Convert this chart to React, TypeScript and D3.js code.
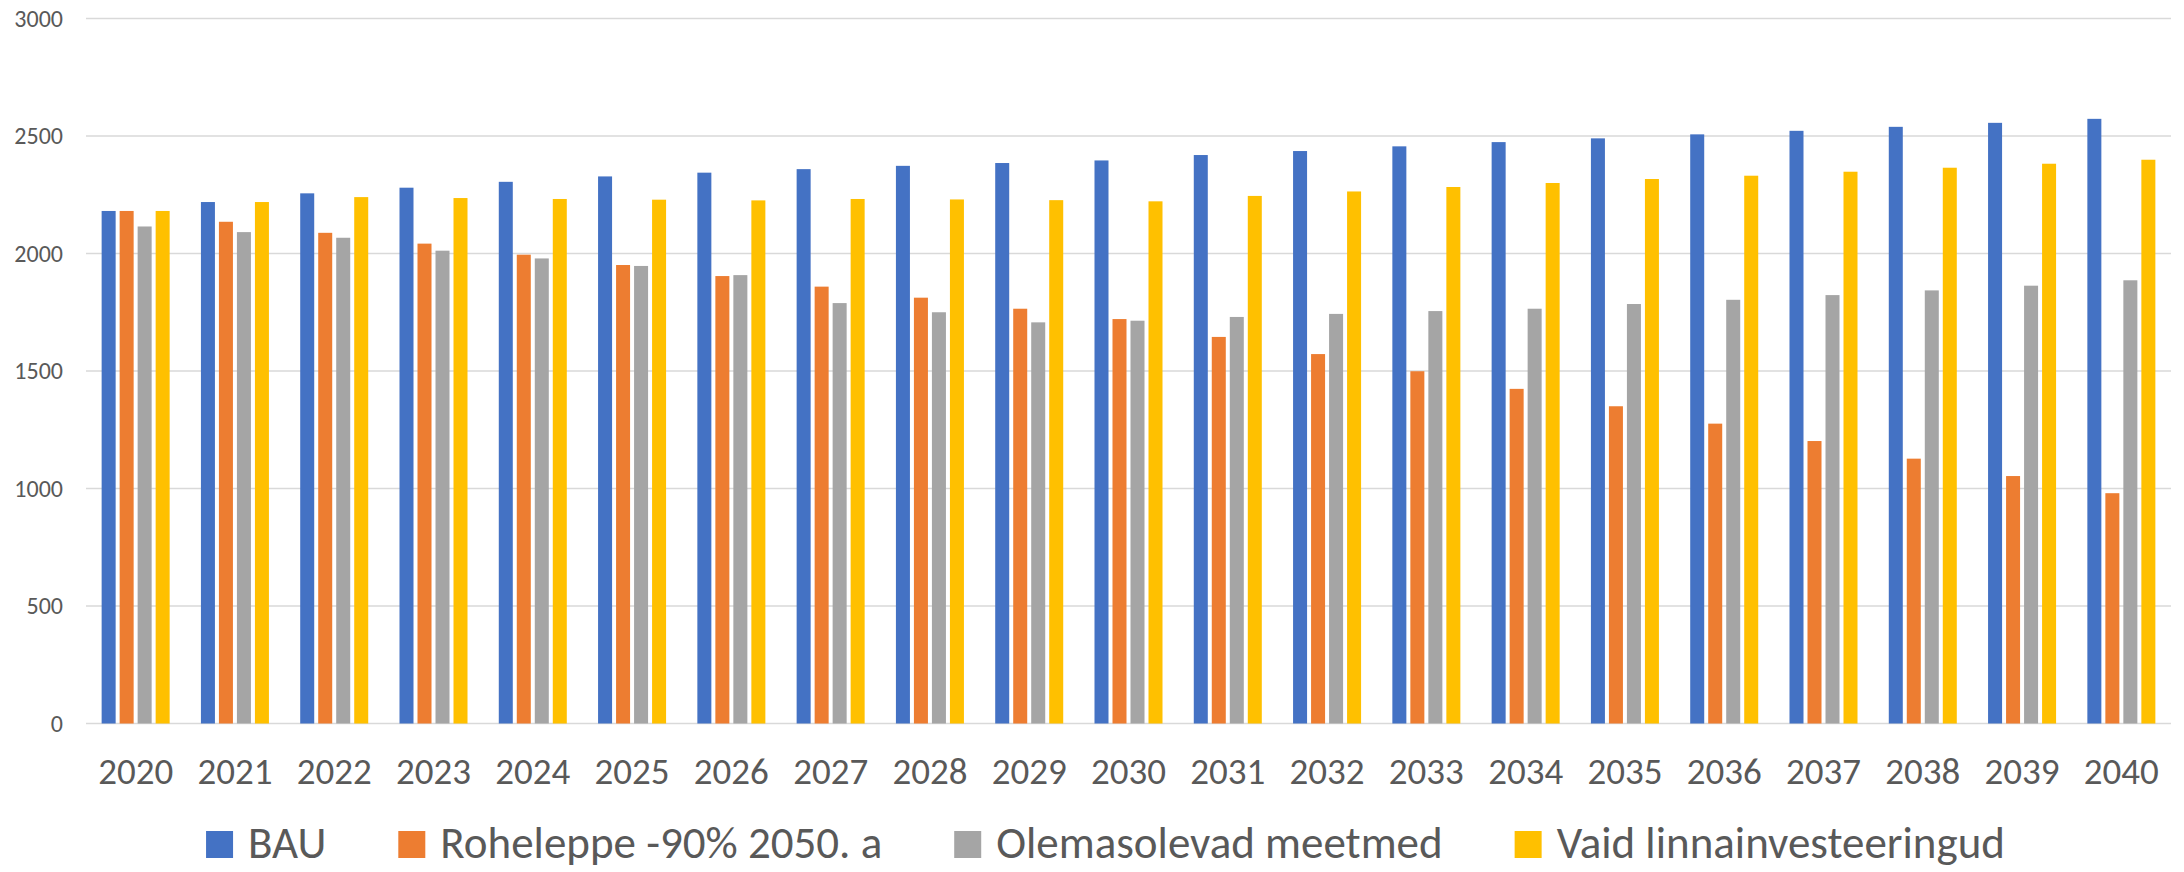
import React, { useEffect, useRef } from "react";
import * as d3 from "d3";

const years = ["2020", "2021", "2022", "2023", "2024", "2025", "2026", "2027", "2028", "2029", "2030",
  "2031", "2032", "2033", "2034", "2035", "2036", "2037", "2038", "2039", "2040"];

const seriesNames = ["BAU", "Roheleppe -90% 2050. a", "Olemasolevad meetmed", "Vaid linnainvesteeringud"];

const bau = [2181, 2219, 2256, 2280, 2305, 2328, 2344, 2359, 2373, 2385, 2396, 2419, 2436, 2456, 2474, 2490, 2507, 2522, 2539, 2556, 2573];
const roheleppe = [2181, 2135, 2088, 2042, 1995, 1951, 1904, 1859, 1812, 1765, 1721, 1645, 1572, 1499, 1424, 1350, 1276, 1202, 1127, 1053, 980];
const olemasolevad = [2115, 2091, 2067, 2012, 1979, 1947, 1908, 1789, 1750, 1707, 1714, 1730, 1743, 1755, 1765, 1785, 1803, 1823, 1843, 1863, 1886];
const vaid = [2181, 2219, 2240, 2236, 2232, 2229, 2226, 2232, 2230, 2227, 2222, 2245, 2264, 2283, 2300, 2317, 2331, 2348, 2365, 2382, 2399];

const yTicks = [0, 500, 1000, 1500, 2000, 2500, 3000];

const colors = ["#4472C4", "#ED7D31", "#A5A5A5", "#FFC000"];

const FONT = "Carlito, Calibri, Lato, 'Liberation Sans', sans-serif";
const TEXT = "#595959";

export default function App() {
  const ref = useRef<SVGSVGElement | null>(null);

  useEffect(() => {
    document.body.style.margin = "0";

    const width = 2184;
    const height = 872;
    const margin = { top: 18.5, right: 13, bottom: 148.5, left: 86 };

    const svg = d3.select(ref.current);
    svg.selectAll("*").remove();

    const values = [bau, roheleppe, olemasolevad, vaid];
    const rows = years.map((yr, i) => ({ year: yr, vals: values.map(s => s[i]) }));

    const x = d3.scaleBand<string>()
      .domain(years)
      .range([margin.left, width - margin.right])
      .paddingInner(0.315)
      .paddingOuter(0.1575);

    const x1 = d3.scaleBand<number>()
      .domain(d3.range(seriesNames.length))
      .range([0, x.bandwidth()])
      .paddingInner(0.222)
      .paddingOuter(0);

    const y = d3.scaleLinear([0, 3000], [height - margin.bottom, margin.top]);

    // gridlines
    svg.append("g")
      .selectAll("line")
      .data(yTicks)
      .join("line")
      .attr("x1", margin.left)
      .attr("x2", width - margin.right)
      .attr("y1", d => y(d))
      .attr("y2", d => y(d))
      .attr("stroke", "#D9D9D9")
      .attr("stroke-width", 1.6);

    // y labels
    svg.append("g")
      .attr("font-family", FONT)
      .attr("font-size", 24)
      .attr("fill", TEXT)
      .attr("text-anchor", "end")
      .selectAll("text")
      .data(yTicks)
      .join("text")
      .attr("x", 63)
      .attr("y", d => y(d))
      .attr("dy", "0.35em")
      .text(d => d);

    // bars
    svg.append("g")
      .selectAll("g")
      .data(rows)
      .join("g")
      .attr("transform", d => `translate(${x(d.year)},0)`)
      .selectAll("rect")
      .data(d => d.vals)
      .join("rect")
      .attr("x", (d, i) => x1(i)!)
      .attr("width", x1.bandwidth())
      .attr("y", d => y(d))
      .attr("height", d => y(0) - y(d))
      .attr("fill", (d, i) => colors[i]);

    // x labels
    svg.append("g")
      .attr("font-family", FONT)
      .attr("font-size", 37)
      .attr("fill", TEXT)
      .attr("text-anchor", "middle")
      .selectAll("text")
      .data(years)
      .join("text")
      .attr("x", d => x(d)! + x.bandwidth() / 2)
      .attr("y", 784)
      .text(d => d);

    // legend, laid out from measured text widths
    const legend = svg.append("g")
      .attr("font-family", FONT)
      .attr("font-size", 45)
      .attr("fill", TEXT);

    const items = legend.selectAll("g")
      .data(seriesNames)
      .join("g");

    items.append("rect")
      .attr("width", 27)
      .attr("height", 27)
      .attr("y", 831)
      .attr("fill", (d, i) => colors[i]);

    items.append("text")
      .attr("x", 42)
      .attr("y", 858)
      .text(d => d);

    const widths: number[] = [];
    items.select("text").each(function () {
      widths.push((this as SVGTextElement).getComputedTextLength());
    });
    const gap = 72;
    const itemW = widths.map(w => 42 + w);
    const total = d3.sum(itemW) + gap * (itemW.length - 1);
    let cx = 1105.5 - total / 2;
    const offsets = itemW.map(w => {
      const o = cx;
      cx += w + gap;
      return o;
    });
    items.attr("transform", (d, i) => `translate(${offsets[i]},0)`);
  }, []);

  return (
    <svg
      ref={ref}
      width={2184}
      height={872}
      style={{ display: "block", background: "#fff" }}
    />
  );
}
